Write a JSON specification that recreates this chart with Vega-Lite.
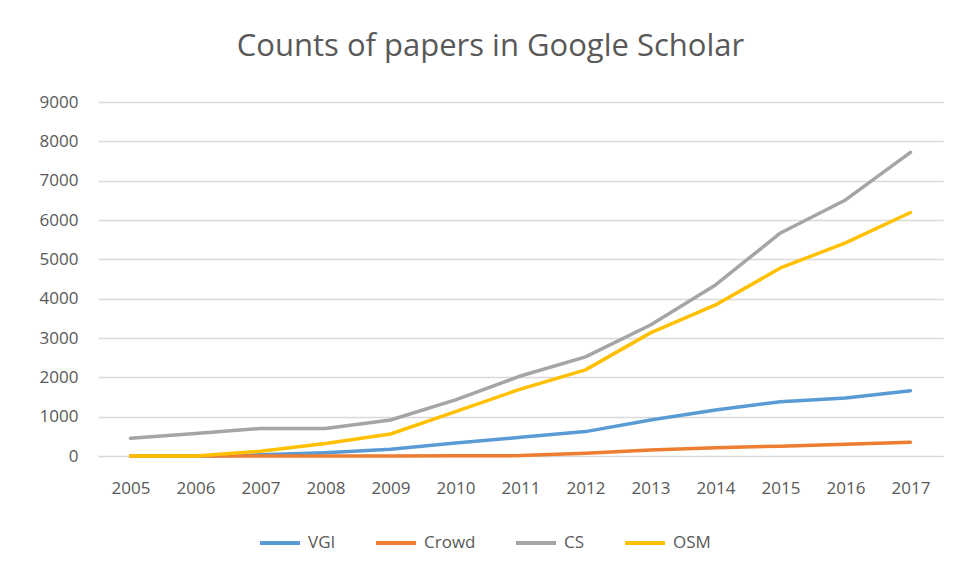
{
  "$schema": "https://vega.github.io/schema/vega-lite/v6.json",
  "width": 845,
  "height": 354,
  "autosize": {"type": "none"},
  "padding": {"left": 98, "top": 102, "right": 12, "bottom": 120},
  "background": "white",
  "title": {
    "text": "Counts of papers in Google Scholar",
    "font": "Open Sans",
    "fontSize": 31,
    "fontWeight": "normal",
    "color": "#595959",
    "anchor": "middle",
    "dx": -30,
    "baseline": "alphabetic",
    "offset": 6
  },
  "data": {
    "values": [
      {"year": "2005", "series": "VGI", "count": 0},
      {"year": "2006", "series": "VGI", "count": 0},
      {"year": "2007", "series": "VGI", "count": 30},
      {"year": "2008", "series": "VGI", "count": 85},
      {"year": "2009", "series": "VGI", "count": 170},
      {"year": "2010", "series": "VGI", "count": 330},
      {"year": "2011", "series": "VGI", "count": 475},
      {"year": "2012", "series": "VGI", "count": 620},
      {"year": "2013", "series": "VGI", "count": 915},
      {"year": "2014", "series": "VGI", "count": 1170},
      {"year": "2015", "series": "VGI", "count": 1380},
      {"year": "2016", "series": "VGI", "count": 1475},
      {"year": "2017", "series": "VGI", "count": 1660},
      {"year": "2005", "series": "Crowd", "count": 0},
      {"year": "2006", "series": "Crowd", "count": 0},
      {"year": "2007", "series": "Crowd", "count": 0},
      {"year": "2008", "series": "Crowd", "count": 0},
      {"year": "2009", "series": "Crowd", "count": 0},
      {"year": "2010", "series": "Crowd", "count": 5},
      {"year": "2011", "series": "Crowd", "count": 10},
      {"year": "2012", "series": "Crowd", "count": 70},
      {"year": "2013", "series": "Crowd", "count": 150},
      {"year": "2014", "series": "Crowd", "count": 210},
      {"year": "2015", "series": "Crowd", "count": 250},
      {"year": "2016", "series": "Crowd", "count": 300},
      {"year": "2017", "series": "Crowd", "count": 350},
      {"year": "2005", "series": "CS", "count": 450},
      {"year": "2006", "series": "CS", "count": 575},
      {"year": "2007", "series": "CS", "count": 700},
      {"year": "2008", "series": "CS", "count": 700},
      {"year": "2009", "series": "CS", "count": 915},
      {"year": "2010", "series": "CS", "count": 1425},
      {"year": "2011", "series": "CS", "count": 2035},
      {"year": "2012", "series": "CS", "count": 2520},
      {"year": "2013", "series": "CS", "count": 3330},
      {"year": "2014", "series": "CS", "count": 4350},
      {"year": "2015", "series": "CS", "count": 5670},
      {"year": "2016", "series": "CS", "count": 6510},
      {"year": "2017", "series": "CS", "count": 7720},
      {"year": "2005", "series": "OSM", "count": 0},
      {"year": "2006", "series": "OSM", "count": 0},
      {"year": "2007", "series": "OSM", "count": 120},
      {"year": "2008", "series": "OSM", "count": 320},
      {"year": "2009", "series": "OSM", "count": 560},
      {"year": "2010", "series": "OSM", "count": 1130},
      {"year": "2011", "series": "OSM", "count": 1700},
      {"year": "2012", "series": "OSM", "count": 2190},
      {"year": "2013", "series": "OSM", "count": 3130},
      {"year": "2014", "series": "OSM", "count": 3840},
      {"year": "2015", "series": "OSM", "count": 4780},
      {"year": "2016", "series": "OSM", "count": 5420},
      {"year": "2017", "series": "OSM", "count": 6190}
    ]
  },
  "mark": {"type": "line", "strokeWidth": 3.5, "strokeCap": "round", "strokeJoin": "round"},
  "encoding": {
    "x": {
      "field": "year",
      "type": "ordinal",
      "scale": {"type": "point", "padding": 0.5},
      "axis": {
        "title": null,
        "labelAngle": 0,
        "labelFont": "Open Sans",
        "labelFontSize": 17,
        "labelColor": "#595959",
        "labelPadding": 24,
        "ticks": false,
        "domain": false,
        "grid": false
      }
    },
    "y": {
      "field": "count",
      "type": "quantitative",
      "scale": {"domain": [0, 9000], "nice": false},
      "axis": {
        "title": null,
        "values": [0, 1000, 2000, 3000, 4000, 5000, 6000, 7000, 8000, 9000],
        "format": "d",
        "labelFont": "Open Sans",
        "labelFontSize": 17,
        "labelColor": "#595959",
        "labelPadding": 20,
        "ticks": false,
        "domain": false,
        "grid": true,
        "gridColor": "#d9d9d9",
        "gridWidth": 1.5
      }
    },
    "color": {
      "field": "series",
      "type": "nominal",
      "sort": ["VGI", "Crowd", "CS", "OSM"],
      "scale": {"domain": ["VGI", "Crowd", "CS", "OSM"], "range": ["#5B9BD5", "#ED7D31", "#A5A5A5", "#FFC000"]},
      "legend": {
        "title": null,
        "orient": "none",
        "direction": "horizontal",
        "legendX": 160,
        "legendY": 419,
        "symbolType": "stroke",
        "symbolSize": 1600,
        "symbolStrokeWidth": 4,
        "labelFont": "Open Sans",
        "labelFontSize": 17,
        "labelColor": "#595959",
        "labelOffset": 6,
        "columnPadding": 32
      }
    }
  },
  "config": {"view": {"stroke": null}}
}
